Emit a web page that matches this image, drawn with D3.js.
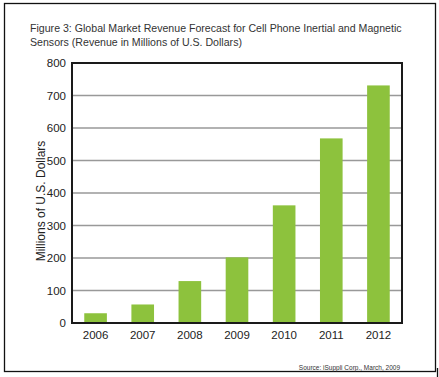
<!DOCTYPE html>
<html>
<head>
<meta charset="utf-8">
<script src="https://cdn.jsdelivr.net/npm/d3@7"></script>
<style>
  body { margin: 0; background: #fff; }
  text { font-family: "Liberation Sans", Arial, sans-serif; }
</style>
</head>
<body>
<div id="chart"></div>
<script>
// données
const years = ["2006", "2007", "2008", "2009", "2010", "2011", "2012"];
const revenue = [30, 57, 129, 202, 362, 568, 731];
const yTicks = [0, 100, 200, 300, 400, 500, 600, 700, 800];
const titleLines = [
    "Figure 3: Global Market Revenue Forecast for Cell Phone Inertial and Magnetic",
    "Sensors (Revenue in Millions of U.S. Dollars)"
];
const sourceText = "Source: iSuppli Corp., March, 2009";

const width = 439, height = 377;
const margin = { top: 63, right: 37, bottom: 54, left: 72 };

const svg = d3.select("#chart").append("svg")
    .attr("width", width).attr("height", height);

// cadre extérieur
svg.append("rect")
    .attr("x", 4.5).attr("y", 3.5)
    .attr("width", 431).attr("height", 368)
    .attr("fill", "none").attr("stroke", "#111").attr("stroke-width", 1.3);

svg.append("line")
    .attr("x1", 437.5).attr("x2", 437.5)
    .attr("y1", 368).attr("y2", 377)
    .attr("stroke", "#111").attr("stroke-width", 1.3);

// titre
svg.append("g").selectAll("text")
    .data(titleLines)
    .join("text")
    .attr("x", 30)
    .attr("y", (d, i) => 32 + i * 14)
    .style("font-size", "10.6px")
    .style("fill", "#333")
    .text(d => d);

const x = d3.scaleBand()
    .domain(years)
    .range([margin.left, width - margin.right])
    .paddingInner(0.52).paddingOuter(0.26);

const y = d3.scaleLinear()
    .domain([0, 800])
    .range([height - margin.bottom, margin.top]);

// grille
svg.append("g")
    .selectAll("line")
    .data(yTicks.filter(t => t > 0 && t < 800))
    .join("line")
    .attr("x1", margin.left).attr("x2", width - margin.right)
    .attr("y1", d => y(d)).attr("y2", d => y(d))
    .attr("stroke", "#999").attr("stroke-width", 1.4);

// barres
svg.append("g")
    .selectAll("rect")
    .data(revenue)
    .join("rect")
    .attr("x", (d, i) => x(years[i]))
    .attr("y", d => y(d))
    .attr("width", x.bandwidth())
    .attr("height", d => y(0) - y(d))
    .attr("fill", "#8dc23d");

// cadre du graphique
svg.append("rect")
    .attr("x", margin.left).attr("y", margin.top)
    .attr("width", width - margin.left - margin.right)
    .attr("height", height - margin.top - margin.bottom)
    .attr("fill", "none").attr("stroke", "#1a1a1a").attr("stroke-width", 2);

// axe Y
const yAxis = svg.append("g")
    .attr("transform", `translate(${margin.left},0)`)
    .call(d3.axisLeft(y).tickValues(yTicks).tickSize(0).tickPadding(6));
yAxis.select(".domain").remove();
yAxis.selectAll("text")
    .style("font-family", "'Liberation Sans', Arial, sans-serif")
    .style("font-size", "11.5px")
    .style("fill", "#222");

// axe X
const xAxis = svg.append("g")
    .attr("transform", `translate(0,${height - margin.bottom})`)
    .call(d3.axisBottom(x).tickSize(0).tickPadding(8));
xAxis.select(".domain").remove();
xAxis.selectAll("text")
    .style("font-family", "'Liberation Sans', Arial, sans-serif")
    .style("font-size", "11.5px")
    .style("fill", "#222");

// libellé Y
svg.append("text")
    .attr("transform", "rotate(-90)")
    .attr("x", -201)
    .attr("y", 45)
    .attr("text-anchor", "middle")
    .style("font-size", "12px")
    .style("fill", "#222")
    .text("Millions of U.S. Dollars");

// source
svg.append("text")
    .attr("x", 400)
    .attr("y", 369.5)
    .attr("text-anchor", "end")
    .style("font-size", "6.5px")
    .style("fill", "#333")
    .text(sourceText);
</script>
</body>
</html>
